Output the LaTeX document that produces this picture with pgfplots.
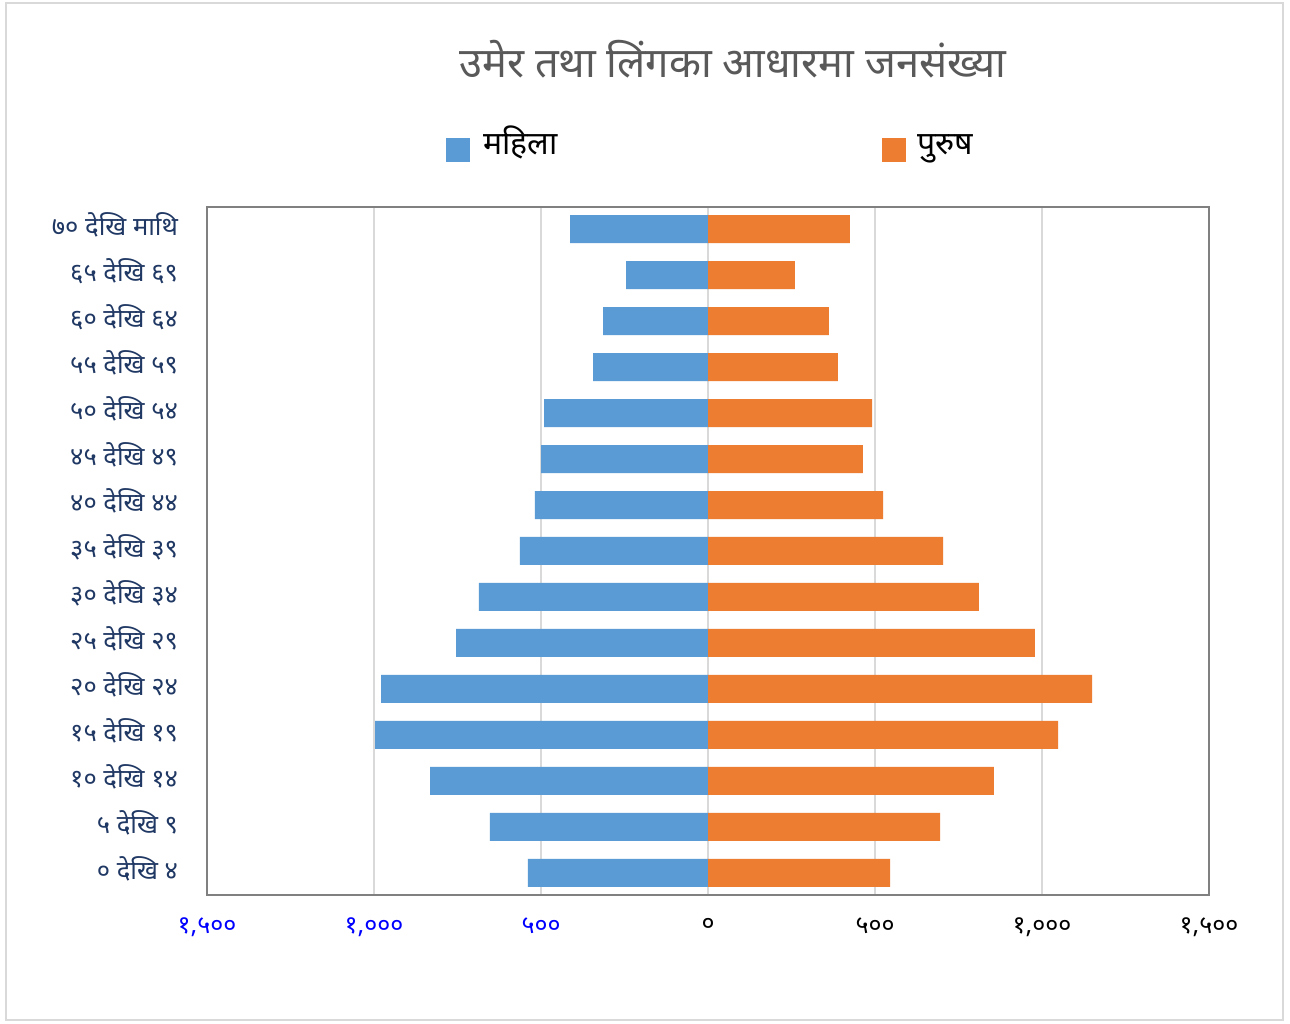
\documentclass[border=0pt]{standalone}
\usepackage{fontspec}
\setmainfont[Script=Devanagari]{Noto Sans}
\usepackage{pgfplots}
\usepackage{pgfplotstable}
\pgfplotsset{compat=1.18}
\definecolor{fem}{HTML}{5B9BD5}
\definecolor{mal}{HTML}{ED7D31}
\definecolor{navy}{HTML}{203864}
\definecolor{titlegray}{HTML}{595959}
\pgfplotstableread{
i f m
0 539 545
1 653 695
2 832 856
3 997 1048
4 979 1150
5 754 979
6 686 811
7 563 704
8 518 524
9 500 464
10 491 491
11 344 389
12 314 362
13 245 260
14 413 425
}\datatable
\begin{document}
\begin{tikzpicture}[x=1pt,y=1pt]
\fill[white] (0,0) rectangle (645,511.5);
\draw[black!15, line width=0.8pt] (3,1.5) rectangle (641.5,510);
\begin{axis}[
  at={(103.5pt,64pt)}, anchor=south west,
  scale only axis, width=501pt, height=344pt,
  xmin=-1500, xmax=1500, ymin=-0.48, ymax=14.48,
  xtick={-1500,-1000,-500,0,500,1000,1500},
  xticklabels={{\textcolor{blue}{१,५००}},{\textcolor{blue}{१,०००}},{\textcolor{blue}{५००}},{०},{५००},{१,०००},{१,५००}},
  ytick={0,...,14},
  yticklabels={{० देखि ४},{५ देखि ९},{१० देखि १४},{१५ देखि १९},{२० देखि २४},{२५ देखि २९},{३० देखि ३४},{३५ देखि ३९},{४० देखि ४४},{४५ देखि ४९},{५० देखि ५४},{५५ देखि ५९},{६० देखि ६४},{६५ देखि ६९},{७० देखि माथि}},
  yticklabel style={font=\fontsize{12.8}{15}\selectfont, text=navy, xshift=-11pt, yshift=2pt},
  xticklabel style={font=\fontsize{12.5}{14}\selectfont, yshift=-8pt},
  major tick length=0pt,
  xmajorgrids, major grid style={black!15, line width=1pt},
  axis line style={black!50, line width=1.2pt},
  xbar, bar width=14pt,
  axis on top=false,
]
\addplot[fill=fem, draw=none, bar shift=0pt] table[x expr=-\thisrow{f}, y=i] {\datatable};
\addplot[fill=mal, draw=none, bar shift=0pt] table[x=m, y=i] {\datatable};
\end{axis}
\node[text=titlegray, font=\fontsize{20.8}{24}\selectfont] at (366.5,482) {उमेर तथा लिंगका आधारमा जनसंख्या};
\fill[fem] (223,430.5) rectangle (235,442.5);
\node[anchor=base west, font=\fontsize{16}{19}\selectfont] at (238,434) {महिला};
\fill[mal] (441,430.5) rectangle (453,442.5);
\node[anchor=base west, font=\fontsize{16}{19}\selectfont] at (455,434) {पुरुष};
\end{tikzpicture}
\end{document}
